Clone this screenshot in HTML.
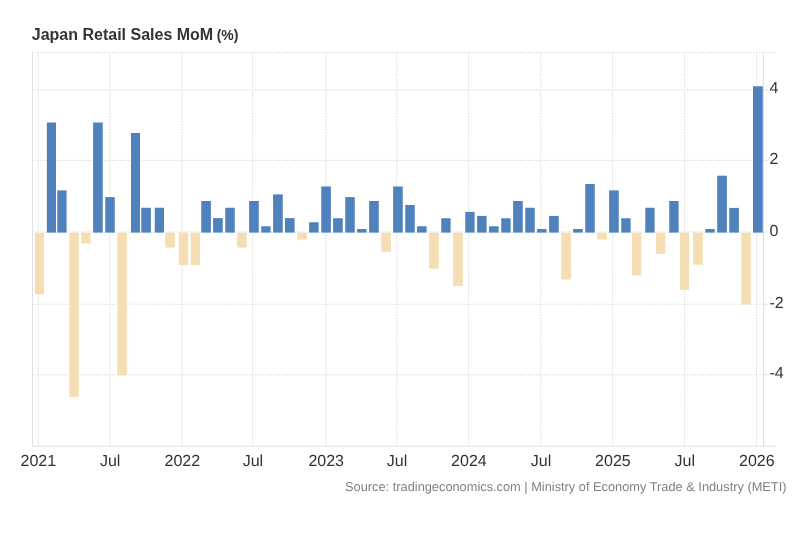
<!DOCTYPE html>
<html><head><meta charset="utf-8"><style>
html,body{margin:0;padding:0;background:#fff;}
body{width:800px;height:546px;overflow:hidden;}
svg{display:block;will-change:transform;font-family:"Liberation Sans",sans-serif;}
.g{stroke:#d0d0d0;stroke-width:1;stroke-dasharray:1.05 1.6;fill:none;}
.ax{stroke:#e0e0e0;stroke-width:1;fill:none;}
.tk{stroke:#e0e0e0;stroke-width:1;}
.p{fill:#4f81bd;}
.n{fill:#f5deb3;}
.xl{font-size:16px;fill:#333;text-anchor:middle;text-rendering:geometricPrecision;}
.yl{font-size:16px;fill:#333;text-rendering:geometricPrecision;}
.src{font-size:12.8px;fill:#808080;text-anchor:end;text-rendering:geometricPrecision;}
</style></head><body>
<svg width="800" height="546" viewBox="0 0 800 546">
<rect width="800" height="546" fill="#fff"/>
<g><rect width="800" height="546" fill="#fff"/>
<line x1="32.5" y1="89.70" x2="763.5" y2="89.70" class="g"/><line x1="32.5" y1="160.40" x2="763.5" y2="160.40" class="g"/><line x1="32.5" y1="232.00" x2="763.5" y2="232.00" class="g"/><line x1="32.5" y1="304.20" x2="763.5" y2="304.20" class="g"/><line x1="32.5" y1="374.80" x2="763.5" y2="374.80" class="g"/><line x1="32.5" y1="52.5" x2="763.5" y2="52.5" class="g"/><line x1="38.00" y1="52.5" x2="38.00" y2="446.2" class="g"/><line x1="109.90" y1="52.5" x2="109.90" y2="446.2" class="g"/><line x1="182.05" y1="52.5" x2="182.05" y2="446.2" class="g"/><line x1="252.60" y1="52.5" x2="252.60" y2="446.2" class="g"/><line x1="325.90" y1="52.5" x2="325.90" y2="446.2" class="g"/><line x1="396.70" y1="52.5" x2="396.70" y2="446.2" class="g"/><line x1="468.60" y1="52.5" x2="468.60" y2="446.2" class="g"/><line x1="540.70" y1="52.5" x2="540.70" y2="446.2" class="g"/><line x1="612.60" y1="52.5" x2="612.60" y2="446.2" class="g"/><line x1="684.55" y1="52.5" x2="684.55" y2="446.2" class="g"/><line x1="756.50" y1="52.5" x2="756.50" y2="446.2" class="g"/>
<line x1="32.5" y1="52.5" x2="32.5" y2="446.2" class="ax"/>
<line x1="763.5" y1="52.5" x2="763.5" y2="446.2" class="ax"/>
<line x1="32.5" y1="446.2" x2="776" y2="446.2" class="ax"/>
<line x1="763.5" y1="52.5" x2="776" y2="52.5" style="stroke:#ececec;stroke-width:1"/>
<rect x="46.85" y="122.50" width="9.15" height="110.10" class="p"/><rect x="57.25" y="190.40" width="9.35" height="42.20" class="p"/><rect x="93.10" y="122.50" width="9.65" height="110.10" class="p"/><rect x="105.25" y="197.10" width="9.50" height="35.50" class="p"/><rect x="131.00" y="133.00" width="9.00" height="99.60" class="p"/><rect x="141.25" y="207.75" width="9.65" height="24.85" class="p"/><rect x="154.75" y="207.75" width="9.25" height="24.85" class="p"/><rect x="201.25" y="201.00" width="9.65" height="31.60" class="p"/><rect x="213.10" y="218.10" width="9.65" height="14.50" class="p"/><rect x="225.25" y="207.75" width="9.50" height="24.85" class="p"/><rect x="249.10" y="201.00" width="9.65" height="31.60" class="p"/><rect x="261.25" y="226.25" width="9.35" height="6.35" class="p"/><rect x="273.10" y="194.40" width="9.65" height="38.20" class="p"/><rect x="285.00" y="218.10" width="9.60" height="14.50" class="p"/><rect x="309.10" y="222.25" width="9.50" height="10.35" class="p"/><rect x="321.25" y="186.50" width="9.65" height="46.10" class="p"/><rect x="333.10" y="218.25" width="9.65" height="14.35" class="p"/><rect x="345.25" y="197.10" width="9.50" height="35.50" class="p"/><rect x="357.10" y="229.00" width="9.50" height="3.60" class="p"/><rect x="369.10" y="201.00" width="9.65" height="31.60" class="p"/><rect x="393.10" y="186.50" width="9.65" height="46.10" class="p"/><rect x="405.25" y="205.00" width="9.50" height="27.60" class="p"/><rect x="417.10" y="226.25" width="9.50" height="6.35" class="p"/><rect x="441.25" y="218.25" width="9.35" height="14.35" class="p"/><rect x="465.25" y="211.90" width="9.35" height="20.70" class="p"/><rect x="477.10" y="215.90" width="9.50" height="16.70" class="p"/><rect x="489.10" y="226.25" width="9.50" height="6.35" class="p"/><rect x="501.25" y="218.25" width="9.35" height="14.35" class="p"/><rect x="513.10" y="201.00" width="9.65" height="31.60" class="p"/><rect x="525.25" y="207.75" width="9.50" height="24.85" class="p"/><rect x="537.10" y="229.00" width="9.50" height="3.60" class="p"/><rect x="549.10" y="215.90" width="9.65" height="16.70" class="p"/><rect x="573.10" y="229.00" width="9.65" height="3.60" class="p"/><rect x="585.25" y="184.00" width="9.50" height="48.60" class="p"/><rect x="609.10" y="190.40" width="9.65" height="42.20" class="p"/><rect x="621.25" y="218.25" width="9.35" height="14.35" class="p"/><rect x="645.30" y="207.75" width="9.30" height="24.85" class="p"/><rect x="669.25" y="201.00" width="9.35" height="31.60" class="p"/><rect x="705.30" y="229.00" width="9.45" height="3.60" class="p"/><rect x="717.20" y="175.70" width="9.70" height="56.90" class="p"/><rect x="729.25" y="207.90" width="9.65" height="24.70" class="p"/><rect x="753.00" y="86.25" width="9.80" height="146.35" class="p"/><rect x="34.75" y="232.60" width="9.25" height="61.65" class="n"/><rect x="69.25" y="232.60" width="9.50" height="164.30" class="n"/><rect x="81.25" y="232.60" width="9.35" height="10.90" class="n"/><rect x="117.25" y="232.60" width="9.55" height="142.70" class="n"/><rect x="165.25" y="232.60" width="9.50" height="14.90" class="n"/><rect x="178.75" y="232.60" width="9.35" height="32.40" class="n"/><rect x="190.60" y="232.60" width="9.40" height="32.40" class="n"/><rect x="237.10" y="232.60" width="9.50" height="14.90" class="n"/><rect x="297.10" y="232.60" width="9.80" height="6.90" class="n"/><rect x="381.25" y="232.60" width="9.65" height="19.15" class="n"/><rect x="429.10" y="232.60" width="9.65" height="36.15" class="n"/><rect x="453.10" y="232.60" width="9.65" height="53.40" class="n"/><rect x="561.25" y="232.60" width="9.65" height="46.90" class="n"/><rect x="597.10" y="232.60" width="9.80" height="6.90" class="n"/><rect x="632.00" y="232.60" width="9.25" height="42.80" class="n"/><rect x="656.00" y="232.60" width="9.25" height="21.30" class="n"/><rect x="680.05" y="232.60" width="9.05" height="57.45" class="n"/><rect x="693.10" y="232.60" width="9.70" height="32.15" class="n"/><rect x="741.35" y="232.60" width="9.45" height="71.90" class="n"/>
<line x1="763.5" y1="89.70" x2="768.0" y2="89.70" class="tk"/><line x1="763.5" y1="160.40" x2="768.0" y2="160.40" class="tk"/><line x1="763.5" y1="232.00" x2="768.0" y2="232.00" class="tk"/><line x1="763.5" y1="304.20" x2="768.0" y2="304.20" class="tk"/><line x1="763.5" y1="374.80" x2="768.0" y2="374.80" class="tk"/>
</g>
<text x="31.8" y="39.5" style="font-size:16px;font-weight:bold;fill:#333">Japan Retail Sales MoM<tspan style="font-size:14px" dx="-0.4"> (%)</tspan></text>
<text x="769.4" y="93.20" class="yl">4</text><text x="769.4" y="164.20" class="yl">2</text><text x="769.4" y="235.90" class="yl">0</text><text x="769.4" y="307.70" class="yl">-2</text><text x="769.4" y="378.35" class="yl">-4</text>
<text x="38.30" y="466" class="xl">2021</text><text x="110.20" y="466" class="xl">Jul</text><text x="182.35" y="466" class="xl">2022</text><text x="252.90" y="466" class="xl">Jul</text><text x="326.20" y="466" class="xl">2023</text><text x="397.00" y="466" class="xl">Jul</text><text x="468.90" y="466" class="xl">2024</text><text x="541.00" y="466" class="xl">Jul</text><text x="612.90" y="466" class="xl">2025</text><text x="684.85" y="466" class="xl">Jul</text><text x="756.80" y="466" class="xl">2026</text>
<text x="786.5" y="491" class="src">Source: tradingeconomics.com | Ministry of Economy Trade &amp; Industry (METI)</text>
</svg>
</body></html>
